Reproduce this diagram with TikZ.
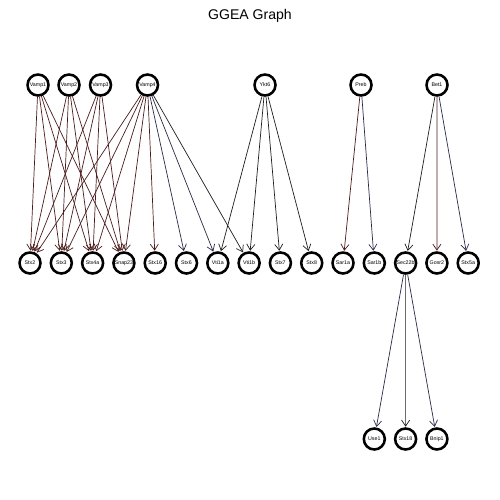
\documentclass[tikz,border=0pt]{standalone}
\usepackage{fontspec}
\setmainfont{Liberation Sans}
\usetikzlibrary{arrows.meta}
\definecolor{redge}{RGB}{75,28,28}
\definecolor{bedge}{RGB}{42,42,72}
\definecolor{dedge}{RGB}{30,30,30}
\begin{document}
\begin{tikzpicture}[x=0.2mm,y=-0.2mm,
  gene/.style={circle,draw=black,line width=1.45pt,minimum size=4.2mm,inner sep=0pt,fill=white,font=\fontsize{3.0}{3.2}\selectfont},
  edge/.style={line width=0.4pt,-{Straight Barb[length=3.4pt,width=4.6pt]},shorten >=0.3pt},
  re/.style={edge,draw=redge},
  be/.style={edge,draw=bedge},
  de/.style={edge,draw=dedge}]
\useasboundingbox (0,0) rectangle (500,500);
\node[font=\fontsize{8}{10}\selectfont] (title) at (250,16) {GGEA Graph};
% top row
\node[gene] (Vamp1) at (38,85) {Vamp1};
\node[gene] (Vamp2) at (69,85) {Vamp2};
\node[gene] (Vamp3) at (100.5,85) {Vamp3};
\node[gene] (Vamp4) at (147.5,85) {Vamp4};
\node[gene] (Ykt6) at (265,85) {Ykt6};
\node[gene] (Preb) at (361,85) {Preb};
\node[gene] (Bet1) at (437,85) {Bet1};
% middle row
\foreach \n [count=\i from 0] in {Stx2,Stx3,Stx4a,Snap23,Stx16,Stx6,Vti1a,Vti1b,Stx7,Stx8,Sar1a,Sar1b,Sec22b,Gosr2,Stx5a}
  \node[gene] (\n) at ({30+31.3*\i},263) {\n};
% bottom row
\node[gene] (Use1) at (374.3,439) {Use1};
\node[gene] (Stx18) at (405.6,439) {Stx18};
\node[gene] (Bnip1) at (436.9,439) {Bnip1};
% edges
\foreach \s in {Vamp1,Vamp2,Vamp3}
  \foreach \t in {Stx2,Stx3,Stx4a,Snap23}
    \draw[re] (\s) -- (\t);
\draw[re] (Vamp4) -- (Stx2);
\draw[re] (Vamp4) -- (Stx3);
\draw[re] (Vamp4) -- (Stx4a);
\draw[re] (Vamp4) -- (Snap23);
\draw[re] (Vamp4) -- (Stx16);
\draw[be] (Vamp4) -- (Stx6);
\draw[be] (Vamp4) -- (Vti1a);
\draw[de] (Vamp4) -- (Vti1b);
\draw[de] (Ykt6) -- (Vti1a);
\draw[de] (Ykt6) -- (Vti1b);
\draw[de] (Ykt6) -- (Stx7);
\draw[de] (Ykt6) -- (Stx8);
\draw[re] (Preb) -- (Sar1a);
\draw[be] (Preb) -- (Sar1b);
\draw[de] (Bet1) -- (Sec22b);
\draw[re] (Bet1) -- (Gosr2);
\draw[be] (Bet1) -- (Stx5a);
\draw[be] (Sec22b) -- (Use1);
\draw[de] (Sec22b) -- (Stx18);
\draw[be] (Sec22b) -- (Bnip1);
\end{tikzpicture}
\end{document}
